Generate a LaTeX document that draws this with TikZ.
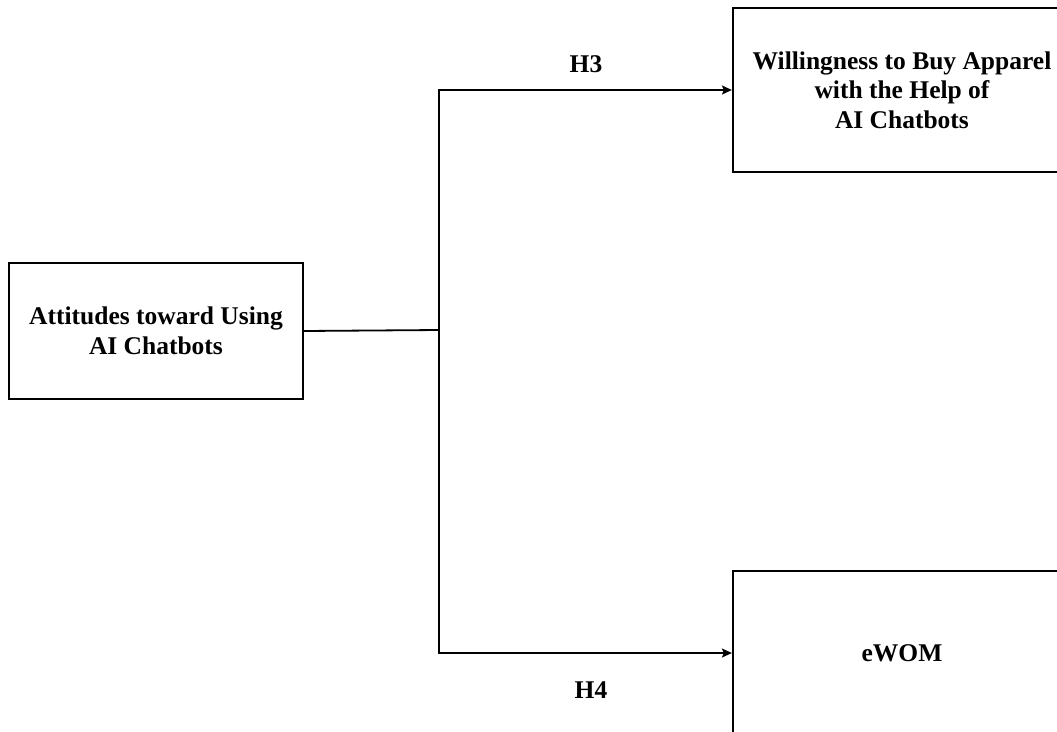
\documentclass[tikz,border=0pt]{standalone}
\usepackage{fontspec}
\setmainfont{Liberation Serif}
\usetikzlibrary{arrows.meta}
\begin{document}
\begin{tikzpicture}[x=1pt,y=-1pt,
  box/.style={draw, line width=2.2pt, rectangle, inner sep=0pt, align=center,
    font=\fontsize{25.5}{29.5}\selectfont\bfseries},
  link/.style={line width=1.8pt},
  arr/.style={link, -{Stealth[length=10pt,width=9pt,inset=2pt]}},
  hyp/.style={font=\fontsize{25.5}{29}\selectfont\bfseries}]
  \useasboundingbox (0,0) rectangle (1057,731);
  \clip (0,0) rectangle (1057,731);
  \fill[white] (0,0) rectangle (1057,731);

  % constructs
  \node[box, minimum width=294pt, minimum height=136pt] (att) at (156,331)
    {Attitudes toward Using\\AI Chatbots};
  \node[box, minimum width=338pt, minimum height=164pt] (wtb) at (902,90)
    {Willingness to Buy Apparel\\with the Help of\\AI Chatbots};
  \node[box, minimum width=338pt, minimum height=164pt] (ewom) at (902,653)
    {eWOM};

  % branching paths
  \coordinate (j) at (439,330);
  \coordinate (t) at (439,90);
  \coordinate (b) at (439,653);
  \draw[link] (att.east) -- (j);
  \draw[link, line cap=rect] (t) -- (b);
  \draw[arr] (t) -- (wtb.west);
  \draw[arr] (b) -- (ewom.west);

  % hypothesis labels
  \node[hyp] (h3) at (586,64) {H3};
  \node[hyp] (h4) at (591,690) {H4};
\end{tikzpicture}
\end{document}
